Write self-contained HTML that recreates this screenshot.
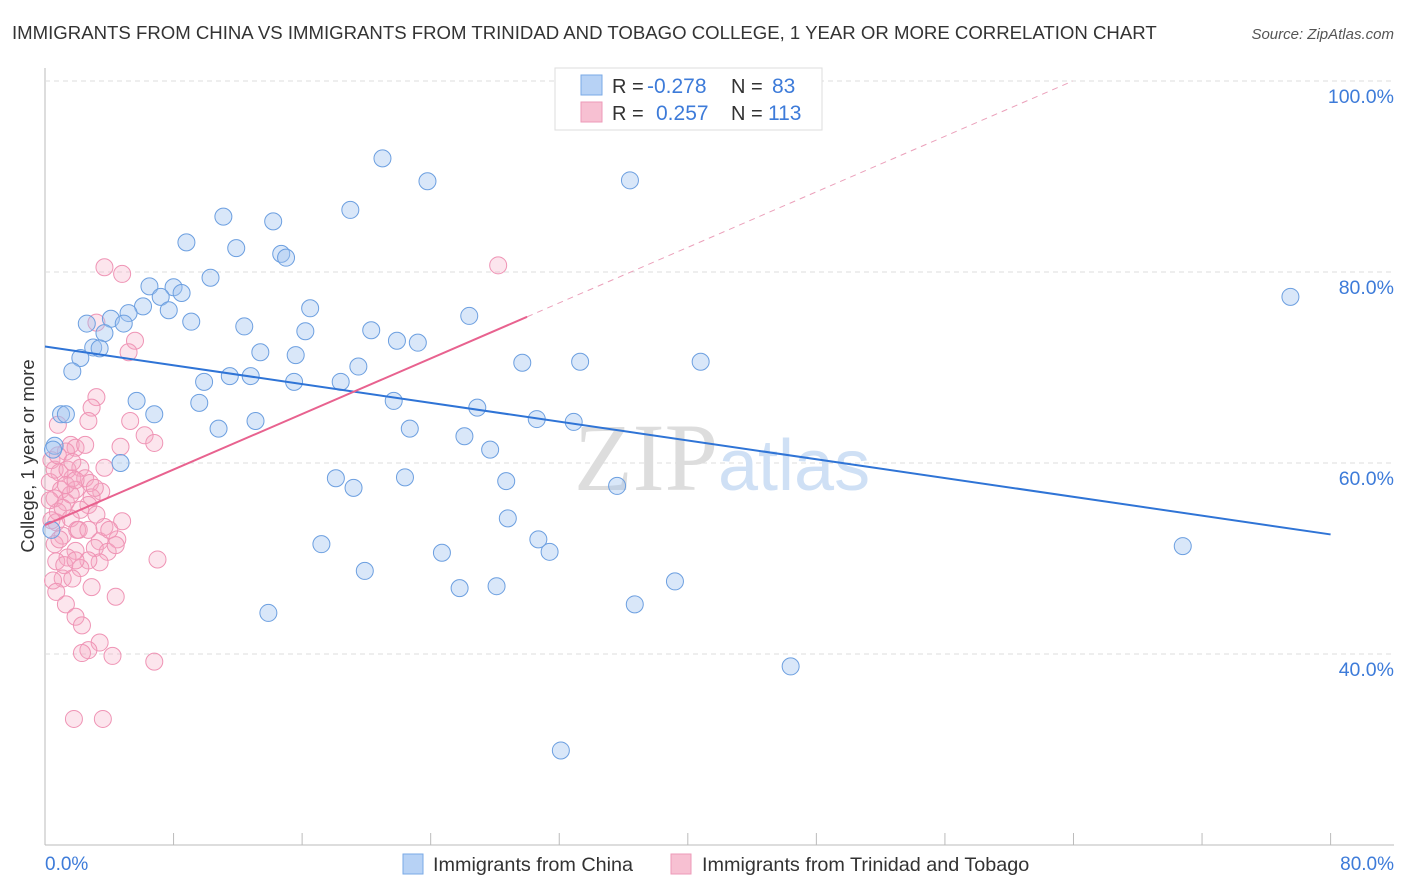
<!DOCTYPE html>
<html><head><meta charset="utf-8">
<style>
body{margin:0;background:#fff;font-family:"Liberation Sans",sans-serif;}
svg{display:block}
</style></head>
<body>
<svg id="chart" width="1406" height="892" xmlns="http://www.w3.org/2000/svg">
<text x="12" y="39" font-size="18.6" fill="#333">IMMIGRANTS FROM CHINA VS IMMIGRANTS FROM TRINIDAD AND TOBAGO COLLEGE, 1 YEAR OR MORE CORRELATION CHART</text>
<text x="1394" y="39" font-size="15" fill="#555" font-style="italic" text-anchor="end">Source: ZipAtlas.com</text>
<g id="grid"></g>
<text x="718" y="490" font-size="96" fill="#ddd" font-family="Liberation Serif,serif" text-anchor="end">ZIP</text>
<text x="718" y="490" font-size="72" fill="#cfe0f5">atlas</text>
<g id="marks"></g>
<g>
<rect x="555" y="68" width="267" height="62" fill="#fff" stroke="#ddd"/>
<rect x="581" y="75" width="21" height="20" fill="#b7d2f5" stroke="#7aa9e6"/>
<rect x="581" y="102" width="21" height="20" fill="#f7c0d2" stroke="#ee9ab8"/>
<text x="612" y="93" font-size="20" fill="#333">R = </text><text x="647" y="93" font-size="21" fill="#3d7bd9">-0.278</text>
<text x="731" y="93" font-size="20" fill="#333">N = </text><text x="772" y="93" font-size="21" fill="#3d7bd9">83</text>
<text x="612" y="120" font-size="20" fill="#333">R = </text><text x="656" y="120" font-size="21" fill="#3d7bd9">0.257</text>
<text x="731" y="120" font-size="20" fill="#333">N = </text><text x="768" y="120" font-size="21" fill="#3d7bd9">113</text>
</g>
<text x="34" y="456" font-size="18.5" fill="#333" text-anchor="middle" transform="rotate(-90 34 456)">College, 1 year or more</text>
<text x="45" y="870" font-size="19" fill="#3d7bd9">0.0%</text>
<text x="1394" y="870" font-size="19" fill="#3d7bd9" text-anchor="end">80.0%</text>
<g>
<rect x="403" y="854" width="20" height="20" fill="#b7d2f5" stroke="#7aa9e6"/>
<text x="433" y="871" font-size="19.8" fill="#333">Immigrants from China</text>
<rect x="671" y="854" width="20" height="20" fill="#f7c0d2" stroke="#ee9ab8"/>
<text x="702" y="871" font-size="19.8" fill="#333">Immigrants from Trinidad and Tobago</text>
</g>
</svg>
<script>
const yTicks=[40,60,80,100];
const blueX=[21.0,23.8,36.4,19.0,11.1,14.2,8.8,11.9,14.7,15.0,10.3,6.5,8.0,8.5,7.2,6.1,7.7,5.2,16.5,26.4,77.5,4.1,2.6,4.9,9.1,12.4,3.7,16.2,20.3,21.9,23.2,3.0,3.4,13.4,15.6,2.2,19.5,29.7,33.3,40.8,1.7,11.5,12.8,9.9,15.5,18.4,5.7,21.7,9.6,1.0,1.3,6.8,26.9,13.1,30.6,32.9,10.8,22.7,26.1,27.7,0.6,4.7,18.1,19.2,22.4,28.7,35.6,28.8,17.2,30.7,24.7,31.4,70.8,19.9,39.2,25.8,28.1,36.7,13.9,46.4,32.1,0.5,0.4];
const blueY=[91.9,89.5,89.6,86.5,85.8,85.3,83.1,82.5,81.9,81.5,79.4,78.5,78.4,77.8,77.4,76.4,76.0,75.7,76.2,75.4,77.4,75.1,74.6,74.6,74.8,74.3,73.6,73.8,73.9,72.8,72.6,72.1,72.0,71.6,71.3,71.0,70.1,70.5,70.6,70.6,69.6,69.1,69.1,68.5,68.5,68.5,66.5,66.5,66.3,65.1,65.1,65.1,65.8,64.4,64.6,64.3,63.6,63.6,62.8,61.4,61.8,60.0,58.4,57.4,58.5,58.1,57.6,54.2,51.5,52.0,50.6,50.7,51.3,48.7,47.6,46.9,47.1,45.2,44.3,38.7,29.9,61.4,53.0];
const pinkX=[3.7,4.8,28.2,3.2,5.6,5.2,3.2,2.9,2.7,5.3,6.2,6.8,4.7,0.8,1.6,1.9,1.3,0.4,2.2,3.7,0.9,2.5,1.7,2.8,0.3,1.0,1.9,3.5,2.9,0.6,1.3,2.7,2.2,0.8,1.6,4.8,0.7,3.7,2.0,1.1,4.5,3.4,0.6,3.1,1.9,3.9,1.4,3.4,7.0,2.7,0.7,2.2,1.1,1.7,2.9,4.4,1.3,1.9,2.3,3.4,2.7,2.3,4.2,6.8,1.8,3.6,0.5,0.9,0.3,0.6,1.2,1.6,2.5,4.0,3.2,1.4,2.1,3.1,0.4,4.4,0.8,1.3,1.9,0.7,1.1,1.7,2.7,1.9];
const pinkY=[80.5,79.8,80.7,74.7,72.8,71.6,66.9,65.8,64.4,64.4,62.9,62.1,61.7,64.0,61.9,61.6,61.2,60.3,59.5,59.5,59.0,58.4,58.4,57.9,58.0,57.2,57.2,57.0,56.4,56.3,55.9,55.6,55.1,54.9,54.2,53.9,53.8,53.3,53.0,52.4,52.0,51.8,51.5,51.1,50.8,50.7,50.1,49.6,49.9,49.8,49.7,49.0,47.9,47.9,47.0,46.0,45.2,43.9,43.0,41.2,40.4,40.1,39.8,39.2,33.2,33.2,47.7,52.0,56.1,59.3,49.3,56.7,61.9,53.0,54.6,59.3,53.0,57.4,54.0,51.4,60.8,57.7,58.2,46.5,55.3,60.1,53.0,49.8];
const blueFit=[72.2,-0.246];
const pinkFit=[53.5,0.727];
const NS='http://www.w3.org/2000/svg';
const sx=v=>45+v*16.07, sy=v=>654+(40-v)*9.55;
const grid=document.getElementById('grid'), marks=document.getElementById('marks');
function mk(tag,a,p){const e=document.createElementNS(NS,tag);for(const k in a)e.setAttribute(k,a[k]);p.appendChild(e);return e;}
const ax=mk('line',{x1:45,y1:68,x2:45,y2:845,stroke:'#bbb'},grid);


const bx=mk('line',{x1:45,y1:845,x2:1394,y2:845,stroke:'#bbb'},grid);


for(let i=0;i<=10;i++){const t=mk('line',{x1:sx(i*8),y1:845,x2:sx(i*8),y2:833,stroke:'#bbb'},grid);

}
yTicks.forEach(v=>{const g=mk('line',{x1:45,y1:sy(v),x2:1394,y2:sy(v),stroke:'#ddd','stroke-dasharray':'5,4'},grid);


const t=mk('text',{x:1394,y:sy(v)+22,'font-size':19.5,fill:'#3d7bd9','text-anchor':'end'},grid);t.textContent=v.toFixed(1)+'%';

});
pinkX.forEach((x,i)=>{const c=mk('circle',{cx:sx(x),cy:sy(pinkY[i]),r:8.5,fill:'rgba(245,170,195,0.3)',stroke:'#ef94b5','stroke-width':1},marks);

});
blueX.forEach((x,i)=>{const c=mk('circle',{cx:sx(x),cy:sy(blueY[i]),r:8.5,fill:'rgba(160,196,240,0.4)',stroke:'#6c9fe0','stroke-width':1},marks);

});
const bl=mk('line',{x1:sx(0),y1:sy(blueFit[0]),x2:sx(80),y2:sy(blueFit[0]+80*blueFit[1]),stroke:'#2f74d6','stroke-width':2},marks);


const pl=mk('line',{x1:sx(0),y1:sy(pinkFit[0]),x2:sx(30),y2:sy(pinkFit[0]+30*pinkFit[1]),stroke:'#e8628f','stroke-width':2},marks);


const xe=(100-pinkFit[0])/pinkFit[1];
const pd=mk('line',{x1:sx(30),y1:sy(pinkFit[0]+30*pinkFit[1]),x2:sx(xe),y2:sy(100),stroke:'#eba0ba','stroke-width':1,'stroke-dasharray':'6,5'},marks);


</script>
</body></html>
